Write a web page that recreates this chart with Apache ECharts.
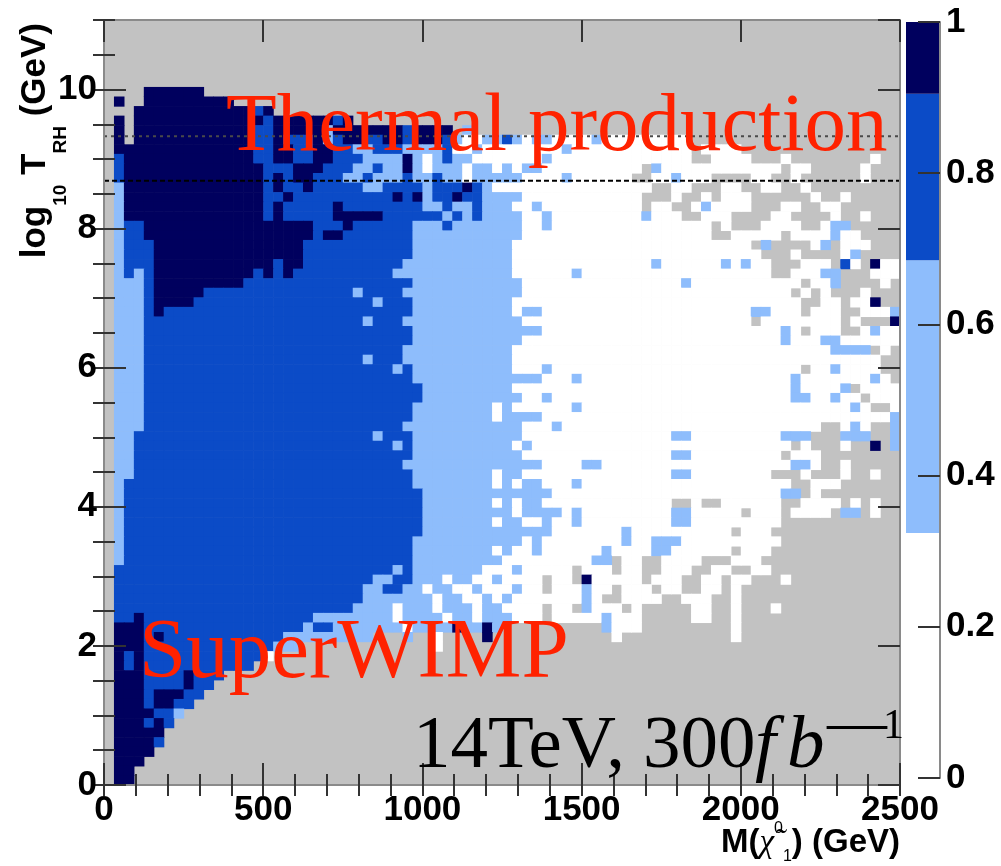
<!DOCTYPE html>
<html>
<head>
<meta charset="utf-8">
<script src="https://cdn.jsdelivr.net/npm/echarts@6/dist/echarts.min.js"></script>
<style>
html, body { margin: 0; padding: 0; background: #fff; }
#chart { width: 1001px; height: 866px; }
</style>
</head>
<body>
<div id="chart"></div>
<script>
// 80 x 80 bins
const xBinWidth = 31.25;   // GeV
const yBinWidth = 0.1375;  // log10(T_RH / GeV)

// one string per row, top row first. "<startColumn><class>" tokens,
// a run lasts until the next token. '.' = empty (grey), w/l/m/d = colour class
const cellRows = [
    "0.", "0.", "0.", "0.", "0.", "0.", "0.",
    "0. 4d 10.",
    "0. 1d 2. 4d 13.",
    "0. 3d 15m 16d 17.",
    "0. 1d 2. 3d 16m 17d 23m 24d 25.",
    "0. 1d 2. 3d 15m 17d 22l 23d 30m 31d 35. 36l 37.",
    "0. 1d 2. 3d 15m 17d 18m 21d 22l 23m 24d 26m 28d 30m 31d 34m 35l 36w 38l 40m 41l 42w 43l 45w 49l 50w 59.",
    "0. 1d 15m 17d 19m 21d 23m 25l 27m 30l 34m 35w 37l 38w 46l 47w 59. 60w 64.",
    "0. 1m 2d 15m 17d 19m 21d 23m 26l 30d 31l 32w 33l 34m 35l 37w 44l 45w 59. 61w 65. 68w 69. 77w 78.",
    "0. 1m 2d 16m 19d 22m 25l 27m 28l 30d 31l 32w 33l 36w 37l 39w 40l 41w 42l 44w 54. 55l 56w 68. 69w 71. 76w 77.",
    "0. 1m 2d 16m 17d 18m 19d 21m 24l 26m 27l 30m 31l 33m 34l 36w 37l 42w 46l 47w 53. 55w 57l 58w 61. 65w 67. 69w 70. 76w 77.",
    "0. 1l 2d 16m 17d 18m 20d 21m 26l 28m 32l 33m 36d 37m 38l 39w 55. 57w 59. 62w 64. 66w 68. 70w 71.",
    "0. 1l 2d 16m 18d 19m 29d 30m 31d 32l 33m 35d 36m 38l 42w 54. 57w 58. 60w 61. 62w 65. 71w 72. 74w 75.",
    "0. 1l 2d 16m 17d 18m 23d 24m 32l 34m 35l 37m 38l 41w 43l 44w 54. 55w 57. 59w 60l 61w 65. 68w 70. 72w 74.",
    "0. 1l 2d 16m 17d 18m 23d 28m 34l 35m 36l 37m 38l 42w 44l 45w 54l 55w 58. 60w 63. 67w 69. 73w 74. 76w 77.",
    "0. 1l 2m 4d 21m 24d 25m 31l 34m 35l 42w 44l 45w 61. 62w 63. 66w 70. 72w 73l 75.",
    "0. 1l 2m 4d 21m 22d 24m 31l 42w 61. 63w 68. 69w 73l 74w 76.",
    "0. 1l 2m 5d 20m 31l 41w 65. 66l 67. 71w 72l 73. 74w 77.",
    "0. 1l 2m 5d 20m 31l 41w 66. 69w 70. 74w 75l 76.",
    "0. 1l 2m 5d 17m 18d 20m 30l 41w 55l 56w 62l 63w 64l 65w 67. 70w 73. 74m 75w 76. 77d 78w",
    "0. 1l 2m 3l 4m 5d 15m 16d 17m 18d 19m 29l 41w 47l 48w 67. 69w 72l 74. 77w",
    "0. 1l 4m 5d 14m 31l 42w 58l 59w 70. 71w 73l 74. 78w 79.",
    "0. 1l 4m 5d 10m 25l 26m 30l 42w 69. 70w 71. 72w 73. 76w 77.",
    "0. 1l 4m 5d 9m 27l 28m 31l 41w 70. 72w 74. 75w 77d 78.",
    "0. 1l 4m 5d 6m 31l 41w 42l 44w 65l 67w 70. 71w 74. 76w 79l",
    "0. 1l 4m 26l 27m 30l 42w 65. 66w 74. 75w 76. 79d",
    "0. 1l 4m 31l 44w 68l 69w 70. 71w 74. 76w 77l 78w",
    "0. 1l 4m 31l 42w 68l 69w 72l 74w",
    "0. 1l 4m 30l 41w 73l 77. 78w 79.",
    "0. 1l 4m 26l 27m 30l 41w 78.",
    "0. 1l 4m 29l 30m 31l 41w 44l 45w 70. 71w 73l 74w 78.",
    "0. 1l 4m 31l 44w 47l 48w 69l 70w 77l 78w 79.",
    "0. 1l 4m 32l 41w 69l 70w 74l 75. 76w",
    "0. 1l 4m 32l 42w 44l 45w 69l 71w 73l 74w 76. 77w",
    "0. 1l 4m 31l 39w 40l 41w 47l 48w 75l 76w 77. 79w",
    "0. 1l 4m 31l 39w 40l 44w 79l",
    "0. 1l 4m 30l 42w 45l 46w 72. 74w 75l 76w 77. 79l",
    "0. 1l 3m 27l 28m 31l 42w 57l 59w 68l 71. 74l 77. 79l",
    "0. 1l 3m 29l 30m 31l 41w 42l 43w 69. 70w 71. 74w 75. 77d 78. 79l",
    "0. 1l 3m 31l 42w 57l 59w 68. 69w 72.",
    "0. 1l 3m 30l 44w 48l 50w 69l 71w 72. 74w 75.",
    "0. 1l 3m 31l 39w 40l 42w 57l 59w 67. 70w 71. 74w 75. 77w 78.",
    "0. 1l 2m 31l 39w 40l 41w 42l 44w 47l 48w 69. 71w 74.",
    "0. 1l 2m 32l 45w 68l 70. 71w 72.",
    "0. 1l 2m 32l 39w 40l 41w 42l 44w 57. 59w 60. 62w 68. 70w 74. 75w 76. 77w 78.",
    "0. 1l 2m 32l 41w 42l 46w 47l 48w 57l 59w 64. 65w 68. 69w 73. 74l 76. 77w 78.",
    "0. 1l 2m 32l 39w 40l 42w 44l 45w 47l 48w 57l 59w 68.",
    "0. 1l 2m 32l 45w 52l 53w 63. 64w 67.",
    "0. 1l 2m 31l 42w 43l 44w 52l 53w 55l 58w 68.",
    "0. 1l 2m 31l 39w 40l 41w 43l 44w 50l 51w 55l 57w 63. 64w 67.",
    "0. 1l 2m 31l 40w 49l 51. 52w 54. 56w 60. 63w 66.",
    "0. 1m 29l 30m 31l 38w 41l 42w 47. 48w 51. 52w 54. 56w 59. 61w 63. 65w 67.",
    "0. 1m 27l 29m 31l 34w 35l 37w 39l 40w 44. 45w 47. 48d 49w 54. 55w 58. 60w 62. 63w 65. 68w 69.",
    "0. 1m 26l 28m 30l 32w 33l 35w 37l 38w 41l 42w 44. 45w 48l 49w 51. 52w 55. 56w 58. 60w 62. 63w 64.",
    "0. 1m 26l 33w 34l 36w 38l 39w 40l 41w 48l 49w 50. 52w 56. 58w 61. 63w 64.",
    "0. 1m 25l 29w 30l 33w 34l 37w 38l 40w 44. 45w 47. 48l 49w 52. 53w 54. 59w 61. 63w 64. 67w 68.",
    "0. 1m 3d 4m 21l 29w 30l 34w 35l 37w 38l 41w 44. 45w 50l 51w 54. 59w 61. 63w 64.",
    "0. 1d 4m 19m 20l 21m 23l 30w 31l 35d 36l 38d 39l 40. 50l 51w 54. 63w 64.",
    "0. 1d 4m 5d 6m 18l 27. 30l 31. 33w 34. 38d 39. 51w 52. 63w 64.",
    "0. 1d 4m 17l 20. 33w 34.",
    "0. 1d 2m 3d 4m 16w 17.",
    "0. 1d 2m 3d 4m 15.",
    "0. 1d 4m 8d 9m 12.",
    "0. 1d 4m 8d 9m 11.",
    "0. 1d 4m 5d 8m 10.",
    "0. 1d 4m 5d 7m 9.",
    "0. 1d 5m 7l 8.",
    "0. 1d 4m 5d 6m 7.",
    "0. 1d 6.",
    "0. 1d 5m 6.",
    "0. 1d 5.",
    "0. 1d 4.",
    "0. 1d 3.",
    "0. 1d 3."
];

// value given to each colour class
const classValues = { w: 0.15, l: 0.5, m: 0.8, d: 0.95 };

// palette edges and colours (colour bar on the right)
const paletteEdges = [0, 0.324, 0.685, 0.905, 1];
const paletteColors = ['#ffffff', '#8ebdfc', '#0b4bc7', '#00005e'];

// horizontal reference lines
const dottedLevel = 9.33;
const dashedLevel = 8.69;

const plotGray = '#c2c2c2';
const frameColor = '#8a8a8a';
const tickColor = '#333';
const redText = '#ff2200';

function buildCells() {
    const cells = [];
    const nRows = cellRows.length;
    cellRows.forEach((line, i) => {
        const row = nRows - 1 - i;
        const tokens = line.trim().split(/\s+/).map(t => {
            const m = t.match(/^(\d+)(.)$/);
            return { start: parseInt(m[1]), cls: m[2] };
        });
        tokens.forEach((tk, k) => {
            const end = k + 1 < tokens.length ? tokens[k + 1].start : 80;
            if (tk.cls === '.') return;
            for (let c = tk.start; c < end; c++) {
                cells.push([c * xBinWidth, row * yBinWidth, classValues[tk.cls]]);
            }
        });
    });
    return cells;
}

function renderCell(params, api) {
    const x0 = api.value(0), y0 = api.value(1);
    const p0 = api.coord([x0, y0 + yBinWidth]);
    const p1 = api.coord([x0 + xBinWidth, y0]);
    return {
        type: 'rect',
        shape: { x: p0[0], y: p0[1], width: p1[0] - p0[0] + 0.6, height: p1[1] - p0[1] + 0.6 },
        style: { fill: api.visual('color') }
    };
}

const labelFont = { fontFamily: 'Liberation Sans', fontWeight: 'bold', fontSize: 35, color: '#000' };

function valueAxis(opts) {
    return Object.assign({
        type: 'value',
        gridIndex: 0,
        z: 10,
        axisLine: { show: true, onZero: false, lineStyle: { color: frameColor, width: 2 } },
        axisTick: { show: true, inside: true, length: 22, lineStyle: { color: tickColor, width: 2 } },
        axisLabel: { show: false },
        splitLine: { show: false }
    }, opts);
}

const minorTick = { show: true, inside: true, length: 11, lineStyle: { color: tickColor, width: 2 } };

// pieces of the "14TeV, 300fb^-1" label, LaTeX-like spacing
function serif(text, x, y, size, extra) {
    return {
        type: 'text', x: x, y: y, z: 100,
        style: Object.assign({ text: text, fill: '#000', fontFamily: 'Liberation Serif', fontSize: size,
            align: 'left', verticalAlign: 'middle' }, extra || {})
    };
}

const chart = echarts.init(document.getElementById('chart'));

const option = {
    animation: false,
    backgroundColor: '#ffffff',
    grid: [
        { left: 104, right: 101, top: 20, bottom: 81, show: true, backgroundColor: plotGray, borderWidth: 0 },
        { left: 906, right: 61, top: 22, bottom: 88, show: false }
    ],
    xAxis: [
        valueAxis({ position: 'bottom', min: 0, max: 2500, interval: 500,
            axisLabel: Object.assign({ show: true, margin: 8, formatter: v => String(v) }, labelFont) }),
        valueAxis({ position: 'bottom', min: 0, max: 2500, interval: 100,
            axisLine: { show: false }, axisTick: minorTick }),
        valueAxis({ position: 'top', min: 0, max: 2500, interval: 500 }),
        valueAxis({ position: 'top', min: 0, max: 2500, interval: 100,
            axisLine: { show: false }, axisTick: minorTick }),
        { type: 'category', gridIndex: 1, data: ['z'], show: false }
    ],
    yAxis: [
        valueAxis({ position: 'left', min: 0, max: 11, interval: 2,
            axisLabel: Object.assign({ show: true, margin: 7, showMaxLabel: false }, labelFont) }),
        valueAxis({ position: 'left', min: 0, max: 11, interval: 0.5,
            axisLine: { show: false }, axisTick: minorTick }),
        valueAxis({ position: 'right', min: 0, max: 11, interval: 2 }),
        valueAxis({ position: 'right', min: 0, max: 11, interval: 0.5,
            axisLine: { show: false }, axisTick: minorTick }),
        {
            type: 'value', gridIndex: 1, position: 'right', min: 0, max: 1, interval: 0.2, z: 10,
            axisLine: { show: true, lineStyle: { color: frameColor, width: 2 } },
            axisTick: { show: true, inside: true, length: 22, lineStyle: { color: tickColor, width: 2 } },
            axisLabel: Object.assign({ show: true, margin: 6 }, labelFont),
            splitLine: { show: false }
        }
    ],
    visualMap: {
        type: 'piecewise',
        show: false,
        seriesIndex: 0,
        dimension: 2,
        pieces: paletteColors.map((c, i) => ({ gte: paletteEdges[i], lt: paletteEdges[i + 1], color: c }))
    },
    series: [
        {
            type: 'custom',
            xAxisIndex: 0,
            yAxisIndex: 0,
            clip: true,
            z: 2,
            renderItem: renderCell,
            data: buildCells()
        },
        {
            type: 'line', xAxisIndex: 0, yAxisIndex: 0, z: 4, symbol: 'none',
            data: [[0, dottedLevel], [2500, dottedLevel]],
            lineStyle: { color: '#4a4a4a', width: 2, type: [3, 4] }
        },
        {
            type: 'line', xAxisIndex: 0, yAxisIndex: 0, z: 4, symbol: 'none',
            data: [[0, dashedLevel], [2500, dashedLevel]],
            lineStyle: { color: '#000', width: 2, type: [5, 3] }
        }
    ].concat(paletteColors.map((c, i) => ({
        type: 'bar',
        xAxisIndex: 4,
        yAxisIndex: 4,
        stack: 'palette',
        barWidth: '100%',
        data: [paletteEdges[i + 1] - paletteEdges[i]],
        itemStyle: { color: c }
    }))),
    graphic: [
        {
            type: 'text', x: 226, y: 128, z: 100,
            style: { text: 'Thermal production', fill: redText, fontFamily: 'Liberation Serif', fontSize: 83, align: 'left', verticalAlign: 'middle' }
        },
        {
            type: 'text', x: 139, y: 655, z: 100,
            style: { text: 'SuperWIMP', fill: redText, fontFamily: 'Liberation Serif', fontSize: 85, align: 'left', verticalAlign: 'middle' }
        },
        serif('14TeV,', 413, 747, 75),
        serif('300', 643, 747, 75),
        serif('f', 755, 747, 75, { fontStyle: 'italic' }),
        serif('b', 787, 747, 75, { fontStyle: 'italic' }),
        serif('\u2014', 827, 725, 60),
        serif('1', 883, 727, 42),
        {
            // y axis title, rotated, right-aligned at the top
            type: 'text', x: 37, y: 23, rotation: Math.PI / 2, z: 100,
            style: {
                text: '{b|log}{s|10}{b| T}{s|RH}{b| (GeV)}',
                align: 'right', verticalAlign: 'middle', fill: '#000',
                rich: {
                    b: { fontFamily: 'Liberation Sans', fontWeight: 'bold', fontSize: 35, lineHeight: 38, verticalAlign: 'top', fill: '#000' },
                    s: { fontFamily: 'Liberation Sans', fontWeight: 'bold', fontSize: 19, lineHeight: 19, verticalAlign: 'top', padding: [33, 0, 0, 0], fill: '#000' }
                }
            }
        },
        {
            // x axis title
            type: 'text', x: 900, y: 843, z: 100,
            style: {
                text: '{b|M(}{c|\u03c7\u0303}{p|0}{q|1}{b|) (GeV)}',
                align: 'right', verticalAlign: 'middle', fill: '#000',
                rich: {
                    b: { fontFamily: 'Liberation Sans', fontWeight: 'bold', fontSize: 33, lineHeight: 44, verticalAlign: 'middle', fill: '#000' },
                    c: { fontFamily: 'Liberation Serif', fontStyle: 'italic', fontSize: 33, lineHeight: 44, verticalAlign: 'middle', fill: '#000' },
                    p: { fontFamily: 'Liberation Sans', fontSize: 16, lineHeight: 16, verticalAlign: 'top', fill: '#000' },
                    q: { fontFamily: 'Liberation Sans', fontSize: 16, lineHeight: 16, verticalAlign: 'bottom', fill: '#000' }
                }
            }
        }
    ]
};

chart.setOption(option);
</script>
</body>
</html>
